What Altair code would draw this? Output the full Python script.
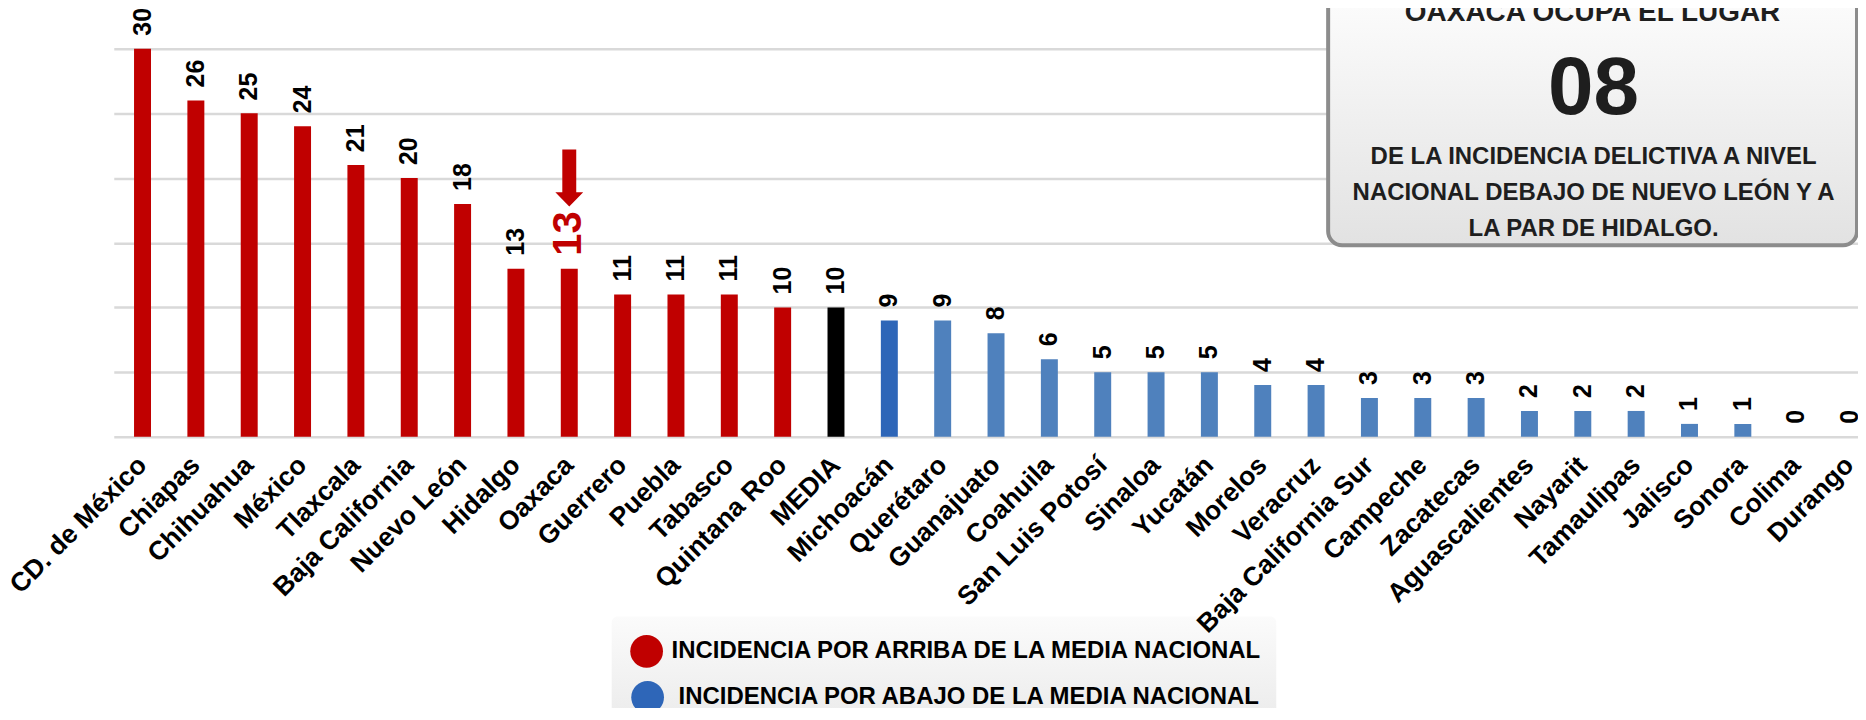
import altair as alt
import pandas as pd

estados = ["CD. de México", "Chiapas", "Chihuahua", "México", "Tlaxcala", "Baja California",
           "Nuevo León", "Hidalgo", "Oaxaca", "Guerrero", "Puebla", "Tabasco", "Quintana Roo",
           "MEDIA", "Michoacán", "Querétaro", "Guanajuato", "Coahuila", "San Luis Potosí",
           "Sinaloa", "Yucatán", "Morelos", "Veracruz", "Baja California Sur", "Campeche",
           "Zacatecas", "Aguascalientes", "Nayarit", "Tamaulipas", "Jalisco", "Sonora",
           "Colima", "Durango"]
valores = [30, 26, 25, 24, 21, 20, 18, 13, 13, 11, 11, 11, 10, 10, 9, 9, 8, 6, 5, 5, 5,
           4, 4, 3, 3, 3, 2, 2, 2, 1, 1, 0, 0]
colores = ["#C00000"] * 13 + ["#000000", "#2E66B8"] + ["#4F81BD"] * 18
destacado = "Oaxaca"

caja_titulo = "OAXACA OCUPA EL LUGAR"
caja_lugar = "08"
caja_lineas = ["DE LA INCIDENCIA DELICTIVA A NIVEL",
               "NACIONAL DEBAJO DE NUEVO LEÓN Y A",
               "LA PAR DE HIDALGO."]
leyenda_textos = ["INCIDENCIA POR ARRIBA DE LA MEDIA NACIONAL",
                  "INCIDENCIA POR ABAJO DE LA MEDIA NACIONAL"]
leyenda_colores = ["#C00000", "#2E66B8"]

df = pd.DataFrame({
    "estado": estados,
    "valor": valores,
    "color": colores,
    "lcolor": ["#C00000" if e == destacado else "#000000" for e in estados],
    "lsize": [40 if e == destacado else 25 for e in estados],
})

FONT = "Liberation Sans, Arial, sans-serif"

X = alt.X("estado:N", sort=estados,
          scale=alt.Scale(paddingInner=0.682, paddingOuter=0.19, align=1),
          axis=alt.Axis(title=None, labelAngle=-45, labelAlign="right", labelBaseline="middle",
                        labelFontSize=26.5, labelFontWeight="bold", labelFont=FONT,
                        labelColor="#000000", labelPadding=24, labelLimit=0,
                        ticks=False, domain=False, grid=False, zindex=1, labelOverlap=False))
Y = alt.Y("valor:Q", scale=alt.Scale(domain=[0, 30], nice=False),
          axis=alt.Axis(title=None, values=[0, 5, 10, 15, 20, 25, 30], labels=False,
                        ticks=False, domain=False, grid=True, gridColor="#d9d9d9",
                        gridWidth=2.5))

base = alt.Chart(df)
bars = base.mark_bar().encode(x=X, y=Y, color=alt.Color("color:N", scale=None))
labels = base.mark_text(angle=270, align="left", baseline="middle", dx=13,
                        font=FONT, fontWeight="bold").encode(
    x=X, y=Y, text="valor:Q",
    color=alt.Color("lcolor:N", scale=None),
    size=alt.Size("lsize:Q", scale=None))

ARROW = "M-0.245,-1 L0.245,-1 L0.245,0.5 L0.49,0.5 L0,1 L-0.49,0.5 L-0.245,0.5 Z"
arrow_df = pd.DataFrame({"estado": [destacado], "valor": [20]})
arrow = alt.Chart(arrow_df).mark_point(shape=ARROW, filled=True, size=3249,
                                       color="#C00000", opacity=1, strokeWidth=0).encode(
    x=X, y=Y)

one = pd.DataFrame({"a": [0]})

caja = alt.Chart(one).mark_rect(
    cornerRadius=14, stroke="#8c8c8c", strokeWidth=4,
    fill=alt.Gradient(gradient="linear",
                      stops=[alt.GradientStop(color="#ffffff", offset=0),
                             alt.GradientStop(color="#e2e2e2", offset=1)],
                      x1=0, x2=0, y1=0, y2=1)).encode(
    x=alt.value(1217), x2=alt.value(1747), y=alt.value(-80), y2=alt.value(197))

textos_caja = [
    alt.Chart(one).mark_text(text=caja_titulo, font=FONT, fontWeight="bold", fontSize=28,
                             color="#1e1e1e", align="center", baseline="alphabetic").encode(
        x=alt.value(1482), y=alt.value(-28)),
    alt.Chart(one).mark_text(text=caja_lugar, font=FONT, fontWeight="bold", fontSize=82,
                             color="#1e1e1e", align="center", baseline="alphabetic").encode(
        x=alt.value(1483), y=alt.value(65)),
]
for i, t in enumerate(caja_lineas):
    textos_caja.append(
        alt.Chart(one).mark_text(text=t, font=FONT, fontWeight="bold", fontSize=24,
                                 color="#1e1e1e", align="center", baseline="alphabetic").encode(
            x=alt.value(1483), y=alt.value(116 + 36 * i)))

leyenda_caja = alt.Chart(one).mark_rect(
    cornerRadius=6,
    fill=alt.Gradient(gradient="linear",
                      stops=[alt.GradientStop(color="#fbfbfb", offset=0),
                             alt.GradientStop(color="#e9e9e9", offset=1)],
                      x1=0, x2=0, y1=0, y2=1)).encode(
    x=alt.value(499), x2=alt.value(1165), y=alt.value(569), y2=alt.value(690))

leyenda = []
for i, (t, c) in enumerate(zip(leyenda_textos, leyenda_colores)):
    leyenda.append(alt.Chart(one).mark_point(shape="circle", filled=True, size=1075, color=c,
                                             opacity=1).encode(
        x=alt.value(534 + i), y=alt.value(604 + 46 * i)))
    leyenda.append(alt.Chart(one).mark_text(text=t, font=FONT, fontWeight="bold", fontSize=24,
                                            color="#000000", align="left",
                                            baseline="middle").encode(
        x=alt.value(559 + 7 * i), y=alt.value(604 + 46 * i)))

chart = alt.layer(bars, labels, arrow, caja, *textos_caja, leyenda_caja, *leyenda).properties(
    width=1748, height=389,
    autosize=alt.AutoSizeParams(type="none"),
    padding={"left": 106, "top": 40, "right": 0, "bottom": 271},
).configure_view(stroke=None)

chart.save("out.html", embed_options={"renderer": "svg", "actions": False})
